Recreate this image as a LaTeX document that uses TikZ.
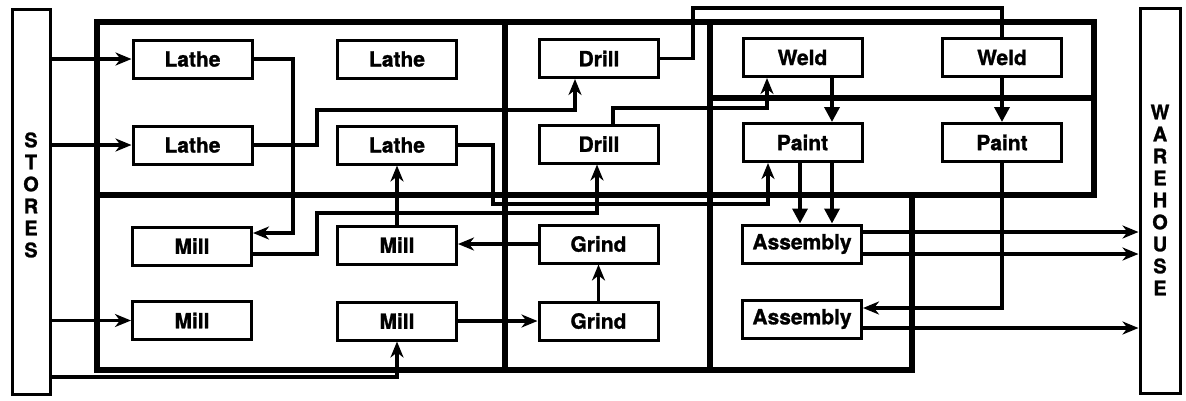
\documentclass[tikz,border=0pt]{standalone}
\usepackage{fontspec}
\setmainfont{TeX Gyre Heros}
\newfontfamily\heavyfont[FakeBold=1.2]{TeX Gyre Heros Bold}
\usetikzlibrary{arrows.meta}
\begin{document}
\begin{tikzpicture}[x=1pt,y=-1pt,
  box/.style={draw,fill=white,line width=3pt,minimum width=119pt,minimum height=38pt,inner sep=0pt,font=\fontsize{21}{24}\selectfont\heavyfont},
  side/.style={draw,line width=3pt,inner sep=0pt},
  letters/.style={align=center,inner sep=0pt,font=\fontsize{20}{22}\selectfont\heavyfont},
  frame/.style={line width=6pt,line join=miter},
  conn/.style={line width=3.5pt},
  arr/.style={conn,-{Stealth[length=16pt,width=13pt,inset=5pt]}},
  tri/.style={conn,-{Triangle[length=15pt,width=15pt]}}
]
\useasboundingbox (0,0) rectangle (1186,400);
% side boxes
\node[side,minimum width=38pt,minimum height=385pt] (stores) at (31,201.5) {};
\node[letters] (storestxt) at (31,195) {S\\T\\O\\R\\E\\S};
\node[side,minimum width=40pt,minimum height=385pt] (wh) at (1160,200.5) {};
\node[letters] (whtxt) at (1160,200) {W\\A\\R\\E\\H\\O\\U\\S\\E};
% frame
\draw[frame] (97,22) -- (1094,22) -- (1094,195) -- (912,195) -- (912,370) -- (97,370) -- cycle;
\draw[frame] (97,195) -- (912,195);
\draw[frame] (505,22) -- (505,370);
\draw[frame] (710,22) -- (710,370);
\draw[frame] (710,98) -- (1094,98);
% boxes
\node[box] (lathe1) at (192.5,59) {Lathe};
\node[box] (lathe3) at (397,59) {Lathe};
\node[box] (lathe2) at (192.5,145) {Lathe};
\node[box] (lathe4) at (397,145) {Lathe};
\node[box] (mill1) at (192,246) {Mill};
\node[box] (mill2) at (397,245) {Mill};
\node[box] (mill3) at (192,320.5) {Mill};
\node[box] (mill4) at (397,321) {Mill};
\node[box] (drill1) at (599,58.5) {Drill};
\node[box] (drill2) at (599,144) {Drill};
\node[box] (grind1) at (598.5,244) {Grind};
\node[box] (grind2) at (598.5,321) {Grind};
\node[box] (weld1) at (802.5,57.5) {Weld};
\node[box] (weld2) at (1002,57.5) {Weld};
\node[box] (paint1) at (802.5,142.5) {Paint};
\node[box] (paint2) at (1002,142.5) {Paint};
\node[box] (asm1) at (802,244) {Assembly};
\node[box] (asm2) at (802,319) {Assembly};
% stores inputs
\draw[arr] (stores.east |- lathe1.west) -- (lathe1.west);
\draw[arr] (stores.east |- lathe2.west) -- (lathe2.west);
\draw[arr] (stores.east |- mill3.west) -- (mill3.west);
\draw[arr] (stores.east |- 0,377) -| (mill4.south);
% lathe/mill section
\draw[arr] (lathe1.east) -| (293,233) -- (mill1.east |- 0,233);
\draw[arr] (lathe2.east) -| (317,110) -| (575,0 |- drill1.south);
\draw[arr] (mill1.east |- 0,254) -| (317,213) -| (597,0 |- drill2.south);
\draw[arr] (lathe4.east) -| (493,204) -| (768,0 |- paint1.south);
\draw[arr] (mill2.north) -- (lathe4.south);
\draw[arr] (grind1.west) -- (mill2.east |- grind1.west);
\draw[arr] (grind2.north) -- (grind1.south);
\draw[arr] (mill4.east) -- (grind2.west |- mill4.east);
% drill section
\draw[conn] (drill1.east) -| (693,8) -| (weld2.north);
\draw[arr] (613,0 |- drill2.north) |- (767,108) -- (767,0 |- weld1.south);
% weld / paint
\draw[tri] (832,0 |- weld1.south) -- (832,0 |- paint1.north);
\draw[tri] (weld2.south) -- (paint2.north);
\draw[tri] (800,0 |- paint1.south) -- (800,0 |- asm1.north);
\draw[tri] (832,0 |- paint1.south) -- (832,0 |- asm1.north);
\draw[arr] (paint2.south) |- (asm2.east |- 0,308);
% to warehouse
\draw[arr] (asm1.east |- 0,232) -- (wh.west |- 0,232);
\draw[arr] (asm1.east |- 0,254) -- (wh.west |- 0,254);
\draw[arr] (asm2.east |- 0,328) -- (wh.west |- 0,328);
\end{tikzpicture}
\end{document}
